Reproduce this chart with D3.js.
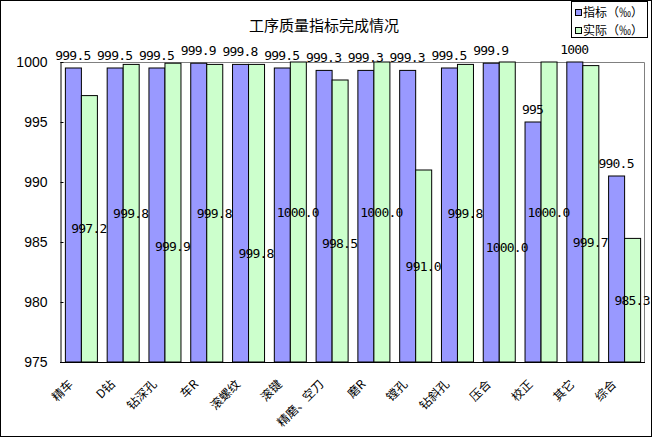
<!DOCTYPE html>
<html>
<head>
<meta charset="utf-8">
<script src="https://cdn.jsdelivr.net/npm/d3@7"></script>
<style>
  body { margin: 0; background: #fff; }
  svg { display: block; }
</style>
</head>
<body>
<svg id="chart" width="652" height="437"></svg>
<script>
// data
const categories = ["精车", "D钻", "钻深孔", "车R", "滚螺纹", "滚键", "精磨、空刀",
                    "磨R", "镗孔", "钻斜孔", "压合", "校正", "其它", "综合"];
const indexValues  = [999.5, 999.5, 999.5, 999.9, 999.8, 999.5, 999.3, 999.3, 999.3, 999.5, 999.9, 995, 1000, 990.5];
const actualValues = [997.2, 999.8, 999.9, 999.8, 999.8, 1000.0, 998.5, 1000.0, 991.0, 999.8, 1000.0, 1000.0, 999.7, 985.3];
const indexLabels  = ["999.5", "999.5", "999.5", "999.9", "999.8", "999.5", "999.3", "999.3", "999.3", "999.5", "999.9", "995", "1000", "990.5"];
const actualLabels = ["997.2", "999.8", "999.9", "999.8", "999.8", "1000.0", "998.5", "1000.0", "991.0", "999.8", "1000.0", "1000.0", "999.7", "985.3"];
const seriesNames  = ["指标（‰）", "实际（‰）"];
const yTicks = [975, 980, 985, 990, 995, 1000];

// layout
const width = 652, height = 437;
const plot = {left: 60, right: 645, top: 62, bottom: 362};
const colors = ["#9999FF", "#CCFFCC"];
// the actual labels that were dragged down from the bar centre in the original
const labelNudge = [0, 0, 34, 0, 40, 0, 22, 0, 0, 0, 35, 0, 29, 0];

const svg = d3.select("#chart");

// outer frame
svg.append("rect")
    .attr("x", 0.5).attr("y", 0.5)
    .attr("width", width - 1).attr("height", height - 1)
    .attr("fill", "#fff")
    .attr("stroke", "#000");

// title
svg.append("text")
    .attr("x", 324).attr("y", 31)
    .attr("text-anchor", "middle")
    .attr("font-family", "'Noto Sans CJK SC', sans-serif")
    .attr("font-size", "15px")
    .text("工序质量指标完成情况");

// scales
const x0 = d3.scaleBand()
    .domain(categories)
    .range([plot.left, plot.right])
    .paddingInner(0.234)
    .paddingOuter(0.117);

const x1 = d3.scaleBand()
    .domain([0, 1])
    .range([0, x0.bandwidth()]);

const y = d3.scaleLinear()
    .domain([975, 1000])
    .range([plot.bottom, plot.top]);

// plot border (grey top & right)
svg.append("path")
    .attr("d", `M${plot.left},${plot.top + 0.5}H${plot.right - 0.5}V${plot.bottom}`)
    .attr("fill", "none")
    .attr("stroke", "#808080");

// bars
const groups = svg.selectAll(".grp")
    .data(categories)
    .enter()
    .append("g")
    .attr("class", "grp")
    .attr("transform", d => `translate(${x0(d)},0)`);

groups.selectAll("rect")
    .data((d, i) => [indexValues[i], actualValues[i]])
    .enter()
    .append("rect")
    .attr("x", (d, j) => x1(j) + 0.5)
    .attr("y", d => y(d))
    .attr("width", x1.bandwidth())
    .attr("height", d => plot.bottom - y(d))
    .attr("fill", (d, j) => colors[j])
    .attr("stroke", "#000")
    .attr("stroke-width", 1);

// value labels
const labelFont = "'DejaVu Sans Mono', 'Liberation Mono', monospace";

svg.selectAll(".ilab")
    .data(categories)
    .enter()
    .append("text")
    .attr("class", "ilab")
    .attr("x", (d, i) => x0(d) + x1(0) + x1.bandwidth() / 2)
    .attr("y", (d, i) => y(indexValues[i]) - 13)
    .attr("dy", "0.35em")
    .attr("text-anchor", "middle")
    .attr("font-family", labelFont)
    .attr("font-size", "13px")
    .attr("letter-spacing", "-0.8px")
    .text((d, i) => indexLabels[i]);

svg.selectAll(".alab")
    .data(categories)
    .enter()
    .append("text")
    .attr("class", "alab")
    .attr("x", (d, i) => x0(d) + x1(1) + x1.bandwidth() / 2)
    .attr("y", (d, i) => (y(actualValues[i]) + plot.bottom) / 2 + labelNudge[i])
    .attr("dy", "0.35em")
    .attr("text-anchor", "middle")
    .attr("font-family", labelFont)
    .attr("font-size", "13px")
    .attr("letter-spacing", "-0.8px")
    .text((d, i) => actualLabels[i]);

// y axis
const yAxis = svg.append("g")
    .attr("transform", `translate(${plot.left + 0.5},0)`)
    .call(d3.axisLeft(y).tickValues(yTicks).tickFormat(d3.format("d"))
        .tickSizeInner(-3).tickSizeOuter(0).tickPadding(13));
yAxis.selectAll("text")
    .attr("font-family", "'Liberation Sans', Arial, sans-serif")
    .attr("font-size", "14px")
    .attr("fill", "#000");
yAxis.selectAll("line, path").attr("stroke", "#000");

// x axis line
svg.append("line")
    .attr("x1", plot.left).attr("x2", plot.right)
    .attr("y1", plot.bottom + 0.5).attr("y2", plot.bottom + 0.5)
    .attr("stroke", "#000");

// rotated category labels
svg.selectAll(".xlab")
    .data(categories)
    .enter()
    .append("text")
    .attr("class", "xlab")
    .attr("transform", d => `translate(${x0(d) + x0.bandwidth() / 2 - 10},382) rotate(-45)`)
    .attr("dy", "0.35em")
    .attr("text-anchor", "end")
    .attr("font-family", "'Noto Sans CJK SC', sans-serif")
    .attr("font-size", "12px")
    .text(d => d);

// legend
const legend = svg.append("g");
legend.append("rect")
    .attr("x", 571.5).attr("y", 1.5)
    .attr("width", 76).attr("height", 36)
    .attr("fill", "#fff")
    .attr("stroke", "#000");

const items = legend.selectAll(".item")
    .data(seriesNames)
    .enter()
    .append("g")
    .attr("transform", (d, i) => `translate(575,${13 + i * 18})`);

items.append("rect")
    .attr("x", 0.5).attr("y", -3.5)
    .attr("width", 6).attr("height", 6)
    .attr("fill", (d, i) => colors[i])
    .attr("stroke", "#000");

items.append("text")
    .attr("x", 8).attr("dy", "0.35em")
    .attr("font-family", "'Noto Sans CJK SC', sans-serif")
    .attr("font-size", "12px")
    .text(d => d);
</script>
</body>
</html>
